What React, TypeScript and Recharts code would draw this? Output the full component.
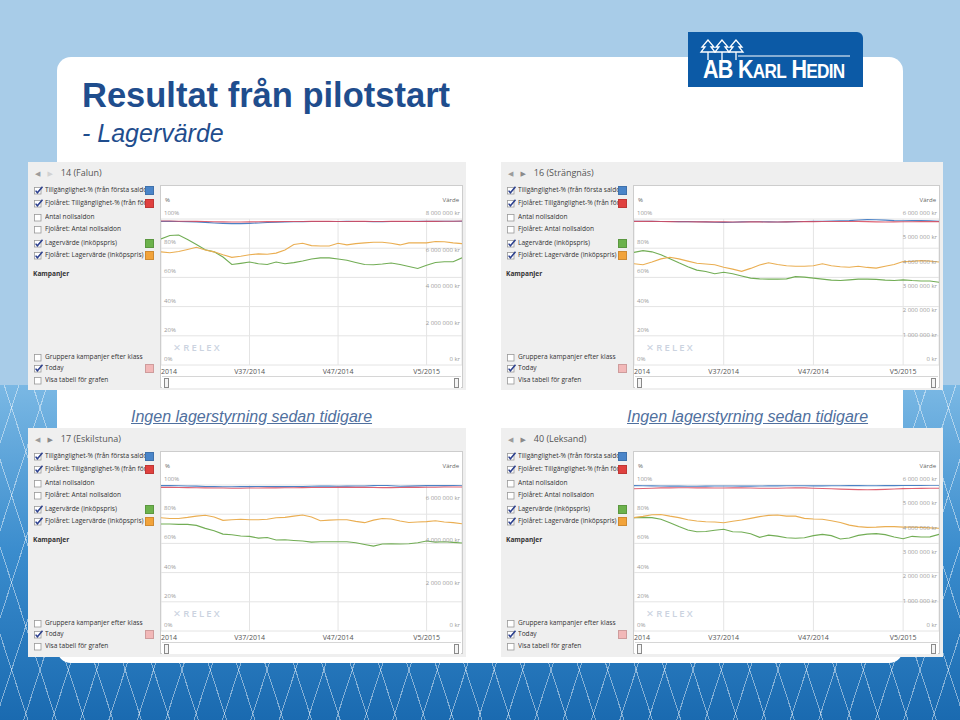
import React from "react";
import { LineChart, Line, XAxis, YAxis, CartesianGrid } from "recharts";

// weekly points, V27/2014 .. V9/2015
const weeks = [
  "V27/2014", "V28/2014", "V29/2014", "V30/2014", "V31/2014", "V32/2014", "V33/2014",
  "V34/2014", "V35/2014", "V36/2014", "V37/2014", "V38/2014", "V39/2014", "V40/2014",
  "V41/2014", "V42/2014", "V43/2014", "V44/2014", "V45/2014", "V46/2014", "V47/2014",
  "V48/2014", "V49/2014", "V50/2014", "V51/2014", "V52/2014", "V1/2015", "V2/2015",
  "V3/2015", "V4/2015", "V5/2015", "V6/2015", "V7/2015", "V8/2015", "V9/2015",
];
const xTicks = ["V27/2014", "V37/2014", "V47/2014", "V5/2015"];
const xTickText: Record<string, string> = { "V27/2014": "2014" };
const pctTicks = [0, 20, 40, 60, 80, 100];

// 14 (Falun) — availability in %, stock value in MSEK
const falunAvail = [98.4, 98.4, 98.3, 98.2, 98.0, 97.7, 97.3, 97.0, 96.8, 96.8, 97.0, 97.3, 97.6, 97.8, 98.0, 98.1, 98.2, 98.3, 98.3, 98.3, 98.3, 98.4, 98.3, 98.3, 98.2, 98.2, 98.3, 98.3, 98.3, 98.4, 98.4, 98.4, 98.5, 98.5, 98.5];
const falunAvailLy = [98.6, 98.6, 98.5, 98.5, 98.4, 98.3, 98.1, 98.0, 97.9, 97.9, 98.0, 98.1, 98.2, 98.2, 98.3, 98.3, 98.3, 98.4, 98.4, 98.4, 98.3, 98.3, 98.4, 98.4, 98.3, 98.3, 98.4, 98.4, 98.4, 98.3, 98.4, 98.4, 98.5, 98.5, 98.6];
const falunValue = [6.91, 7.1, 7.12, 6.88, 6.6, 6.32, 6.2, 5.92, 5.51, 5.57, 5.64, 5.55, 5.51, 5.64, 5.55, 5.61, 5.7, 5.81, 5.87, 5.87, 5.81, 5.74, 5.62, 5.51, 5.49, 5.53, 5.59, 5.51, 5.4, 5.29, 5.47, 5.62, 5.66, 5.66, 5.87];
const falunValueLy = [6.2, 6.15, 6.22, 6.33, 6.45, 6.3, 6.2, 6.04, 5.9, 5.96, 6.04, 6.09, 6.07, 6.13, 6.3, 6.6, 6.67, 6.54, 6.52, 6.52, 6.67, 6.58, 6.65, 6.69, 6.73, 6.73, 6.67, 6.58, 6.69, 6.69, 6.69, 6.77, 6.75, 6.69, 6.65];

// 16 (Strängnäs)
const strangnasAvail = [98.5, 98.5, 98.4, 98.3, 98.3, 98.2, 98.2, 98.1, 98.0, 97.8, 97.7, 97.8, 98.0, 98.1, 98.1, 98.0, 97.9, 98.0, 98.2, 98.3, 98.4, 98.5, 98.6, 98.7, 98.9, 99.3, 99.6, 99.5, 99.2, 98.9, 98.8, 98.9, 99.0, 98.8, 98.5];
const strangnasAvailLy = [98.4, 98.4, 98.4, 98.3, 98.2, 98.1, 98.1, 98.0, 98.0, 98.0, 98.0, 97.9, 97.9, 98.0, 98.0, 97.9, 97.9, 98.0, 98.1, 98.2, 98.2, 98.3, 98.3, 98.3, 98.3, 98.4, 98.2, 98.0, 97.9, 98.0, 98.1, 98.1, 98.2, 98.2, 98.2];
const strangnasValue = [4.63, 4.7, 4.65, 4.53, 4.37, 4.2, 4.04, 3.9, 3.84, 3.75, 3.81, 3.75, 3.66, 3.57, 3.54, 3.53, 3.53, 3.54, 3.63, 3.61, 3.57, 3.53, 3.49, 3.47, 3.5, 3.53, 3.53, 3.52, 3.49, 3.47, 3.5, 3.47, 3.45, 3.45, 3.4];
const strangnasValueLy = [4.16, 4.12, 4.23, 4.36, 4.43, 4.36, 4.27, 4.18, 4.15, 4.12, 4.02, 3.94, 3.85, 3.97, 4.11, 4.2, 4.13, 4.08, 4.06, 4.06, 4.08, 4.16, 4.08, 4.04, 4.02, 4.06, 4.01, 3.98, 4.06, 4.13, 4.25, 4.26, 4.29, 4.27, 4.23];

// 17 (Eskilstuna)
const eskilstunaAvail = [99.6, 99.6, 99.5, 99.3, 99.2, 99.0, 98.9, 98.8, 98.8, 98.9, 98.9, 99.0, 99.0, 98.9, 98.9, 99.0, 99.0, 99.1, 99.2, 99.2, 99.1, 99.2, 99.3, 99.3, 99.6, 99.8, 99.5, 99.1, 99.2, 99.4, 99.6, 99.7, 99.6, 99.7, 99.8];
const eskilstunaAvailLy = [98.4, 98.4, 98.3, 98.2, 98.1, 98.0, 97.9, 97.9, 97.8, 97.8, 97.9, 97.9, 98.0, 98.0, 98.1, 98.1, 98.2, 98.3, 98.3, 98.3, 98.4, 98.4, 98.5, 98.4, 98.3, 98.2, 98.2, 98.3, 98.4, 98.4, 98.5, 98.5, 98.6, 98.6, 98.6];
const eskilstunaValue = [5.06, 5.06, 5.04, 5.04, 4.99, 4.85, 4.74, 4.58, 4.55, 4.49, 4.47, 4.39, 4.42, 4.3, 4.31, 4.28, 4.25, 4.2, 4.22, 4.22, 4.22, 4.22, 4.17, 4.09, 4.01, 4.11, 4.12, 4.11, 4.12, 4.17, 4.25, 4.2, 4.22, 4.19, 4.16];
const eskilstunaValueLy = [5.35, 5.32, 5.32, 5.37, 5.43, 5.47, 5.39, 5.23, 5.26, 5.28, 5.26, 5.26, 5.28, 5.35, 5.37, 5.43, 5.48, 5.39, 5.21, 5.24, 5.26, 5.26, 5.18, 5.12, 5.24, 5.32, 5.29, 5.2, 5.13, 5.15, 5.17, 5.21, 5.15, 5.12, 5.07];

// 40 (Leksand)
const leksandAvail = [99.6, 99.5, 99.4, 99.3, 99.2, 99.2, 99.1, 99.1, 99.2, 99.3, 99.3, 99.3, 99.2, 99.2, 99.3, 99.4, 99.4, 99.5, 99.5, 99.5, 99.4, 99.4, 99.5, 99.5, 99.6, 99.6, 99.5, 99.5, 99.6, 99.6, 99.7, 99.7, 99.7, 99.8, 99.8];
const leksandAvailLy = [97.4, 97.6, 97.8, 98.0, 98.0, 98.1, 98.1, 98.0, 98.0, 97.9, 97.9, 98.0, 98.0, 97.9, 97.8, 97.8, 97.8, 97.9, 98.0, 98.0, 97.8, 97.6, 97.4, 97.2, 97.0, 96.8, 96.7, 96.8, 97.0, 97.3, 97.5, 97.6, 97.7, 97.8, 97.8];
const leksandValue = [4.66, 4.67, 4.66, 4.59, 4.45, 4.29, 4.15, 4.08, 4.09, 4.14, 4.18, 4.08, 4.07, 4.0, 3.85, 3.94, 3.9, 3.83, 3.81, 3.83, 3.92, 3.97, 3.92, 3.78, 3.82, 3.93, 3.98, 4.0, 3.96, 3.86, 3.79, 3.89, 3.86, 3.87, 3.97];
const leksandValueLy = [4.66, 4.71, 4.78, 4.79, 4.72, 4.66, 4.57, 4.52, 4.49, 4.48, 4.45, 4.51, 4.56, 4.63, 4.7, 4.75, 4.77, 4.72, 4.72, 4.63, 4.6, 4.59, 4.53, 4.46, 4.35, 4.29, 4.26, 4.27, 4.29, 4.29, 4.27, 4.27, 4.26, 4.24, 4.22];

const COLORS = {
  avail: "#4b82c6",
  availLy: "#d9485a",
  value: "#72ad55",
  valueLy: "#eaae52",
};

const legendRows = [
  { label: "Tillgänglighet-% (från första saldo", checked: true, swatch: "#4a85c9", y: 28 },
  { label: "Fjolåret: Tillgänglighet-% (från första saldo", checked: true, swatch: "#e0413f", y: 41 },
  { label: "Antal nollsaldon", checked: false, swatch: null, y: 55 },
  { label: "Fjolåret: Antal nollsaldon", checked: false, swatch: null, y: 67 },
  { label: "Lagervärde (inköpspris)", checked: true, swatch: "#6cb24c", y: 81 },
  { label: "Fjolåret: Lagervärde (inköpspris)", checked: true, swatch: "#f2a33a", y: 93 },
];
const bottomRows = [
  { label: "Gruppera kampanjer efter klass", checked: false, swatch: null, y: 195 },
  { label: "Today", checked: true, swatch: "#f2b8b8", y: 206 },
  { label: "Visa tabell för grafen", checked: false, swatch: null, y: 218 },
];

const FONT = "'Open Sans', 'DejaVu Sans', sans-serif";

const fmtKr = (v: number) =>
  String(Math.round(v * 1000000)).replace(/\B(?=(\d{3})+(?!\d))/g, " ") + " kr";

const PctTick = (p: any) => (
  <text x={p.x} y={p.y - 4} fontSize={6} fill="#9a9a9a" textAnchor="start" fontFamily={FONT}>
    {p.payload.value}%
  </text>
);
const KrTick = (p: any) => (
  <text x={p.x} y={p.y - 4} fontSize={6} fill="#9a9a9a" textAnchor="end" fontFamily={FONT}>
    {fmtKr(p.payload.value)}
  </text>
);
const WeekTick = (p: any) => {
  const v = p.payload.value as string;
  return (
    <text x={p.x} y={p.y + 7} fontSize={7} fill="#555" textAnchor={v === xTicks[0] ? "start" : "middle"} fontFamily={FONT}>
      {xTickText[v] ?? v}
    </text>
  );
};

const Check = ({ checked }: { checked: boolean }) => (
  <svg width={10} height={9} style={{ position: "absolute", left: 6, top: -4 }}>
    <rect x={0.5} y={1.5} width={6.5} height={6.5} fill="#fff" stroke="#9a9a9a" strokeWidth={0.8} />
    {checked && <path d="M1.6 4.6 L3.4 6.8 L8.5 0.8" fill="none" stroke="#2b3f8e" strokeWidth={1.5} />}
  </svg>
);

const Row = ({ r }: { r: { label: string; checked: boolean; swatch: string | null; y: number } }) => (
  <div style={{ position: "absolute", left: 0, top: r.y, width: 130 }}>
    <Check checked={r.checked} />
    <div
      style={{
        position: "absolute", left: 17, top: -5, width: 100, height: 10, overflow: "hidden",
        whiteSpace: "nowrap", fontSize: 6.6, lineHeight: "10px", color: "#333", fontFamily: FONT,
      }}
    >
      {r.label}
    </div>
    {r.swatch && (
      <div style={{ position: "absolute", left: 117, top: -4.5, width: 9, height: 9, background: r.swatch, border: "0.5px solid rgba(0,0,0,0.15)", boxSizing: "border-box" }} />
    )}
  </div>
);

type PanelProps = {
  left: number; top: number; width: number; height: number; title: string; nextDim?: boolean;
  avail: number[]; availLy: number[]; value: number[]; valueLy: number[];
  rightMax: number; rightTicks: number[];
};

function ChartPanel(props: PanelProps) {
  const { left, top, width, height, title, nextDim, avail, availLy, value, valueLy, rightMax, rightTicks } = props;
  const data = weeks.map((w, i) => ({
    week: w, avail: avail[i], availLy: availLy[i], value: value[i], valueLy: valueLy[i],
  }));
  const boxW = width - 135;
  const chartW = boxW - 2;
  return (
    <div style={{ position: "absolute", left, top, width, height, background: "#efefef", fontFamily: FONT }}>
      <div style={{ position: "absolute", left: 7, top: 4, fontSize: 9, color: "#555", whiteSpace: "nowrap" }}>
        <span style={{ color: "#9c9c9c", fontSize: 7 }}>◀</span>
        <span style={{ color: nextDim ? "#d2d2d2" : "#8a8a8a", fontSize: 7, marginLeft: 7 }}>▶</span>
        <span style={{ marginLeft: 8 }}>{title}</span>
      </div>
      {legendRows.map((r) => <Row key={r.label} r={r} />)}
      <div style={{ position: "absolute", left: 5, top: 107, fontSize: 6.6, fontWeight: 700, color: "#333" }}>Kampanjer</div>
      {bottomRows.map((r) => <Row key={r.label} r={r} />)}

      <div style={{ position: "absolute", left: 132, top: 23, width: boxW, height: 203, background: "#fff", border: "1px solid #cdcdcd", boxSizing: "border-box" }}>
        <div style={{ position: "absolute", left: 4, top: 11, fontSize: 6, lineHeight: "7px", color: "#666" }}>%</div>
        <div style={{ position: "absolute", right: 3, top: 11, fontSize: 6, lineHeight: "7px", color: "#666" }}>Värde</div>
        <div style={{ position: "absolute", left: 12, top: 155, fontSize: 9.5, letterSpacing: 2.2, color: "#cbd3df", fontWeight: 600 }}>
          ✕RELEX
        </div>
        <LineChart width={chartW} height={191} data={data} margin={{ top: 33, right: 0, bottom: 0, left: 0 }}>
          <CartesianGrid yAxisId="pct" stroke="#e4e4e4" strokeWidth={1} />
          <XAxis
            dataKey="week" ticks={xTicks} interval={0} height={12} tickSize={0} tickMargin={2}
            tickLine={false} axisLine={false} tick={<WeekTick />}
          />
          <YAxis
            yAxisId="pct" domain={[0, 100]} ticks={pctTicks} allowDataOverflow mirror tickSize={0}
            tickLine={false} axisLine={false} width={30} tickMargin={3} tick={<PctTick />}
          />
          <YAxis
            yAxisId="kr" orientation="right" domain={[0, rightMax]} ticks={rightTicks} allowDataOverflow mirror tickSize={0}
            tickLine={false} axisLine={false} width={40} tickMargin={2} tick={<KrTick />}
          />
          <Line yAxisId="kr" dataKey="value" stroke={COLORS.value} strokeWidth={1.1} dot={false} isAnimationActive={false} />
          <Line yAxisId="kr" dataKey="valueLy" stroke={COLORS.valueLy} strokeWidth={1.1} dot={false} isAnimationActive={false} />
          <Line yAxisId="pct" dataKey="avail" stroke={COLORS.avail} strokeWidth={1.1} dot={false} isAnimationActive={false} />
          <Line yAxisId="pct" dataKey="availLy" stroke={COLORS.availLy} strokeWidth={1.1} strokeOpacity={0.85} dot={false} isAnimationActive={false} />
        </LineChart>
        <div style={{ position: "absolute", left: 1, right: 1, top: 190, height: 11, background: "#fff", borderTop: "1px solid #d6d6d6" }}>
          <div style={{ position: "absolute", left: 2, top: 1, width: 3, height: 8, border: "1px solid #8a8a8a", background: "#f4f4f4" }} />
          <div style={{ position: "absolute", right: 2, top: 1, width: 3, height: 8, border: "1px solid #8a8a8a", background: "#f4f4f4" }} />
        </div>
      </div>
    </div>
  );
}

const panels: PanelProps[] = [
  { left: 28, top: 162, width: 438, height: 228, title: "14 (Falun)", nextDim: true, avail: falunAvail, availLy: falunAvailLy, value: falunValue, valueLy: falunValueLy, rightMax: 8, rightTicks: [0, 2, 4, 6, 8] },
  { left: 501, top: 162, width: 442, height: 228, title: "16 (Strängnäs)", avail: strangnasAvail, availLy: strangnasAvailLy, value: strangnasValue, valueLy: strangnasValueLy, rightMax: 6, rightTicks: [0, 1, 2, 3, 4, 5, 6] },
  { left: 28, top: 428, width: 438, height: 229, title: "17 (Eskilstuna)", avail: eskilstunaAvail, availLy: eskilstunaAvailLy, value: eskilstunaValue, valueLy: eskilstunaValueLy, rightMax: 6.9, rightTicks: [0, 2, 4, 6] },
  { left: 501, top: 428, width: 442, height: 229, title: "40 (Leksand)", avail: leksandAvail, availLy: leksandAvailLy, value: leksandValue, valueLy: leksandValueLy, rightMax: 6, rightTicks: [0, 1, 2, 3, 4, 5, 6] },
];

const Tree = ({ x }: { x: number }) => (
  <path d={`M${x} 8 L${x - 6} 15 L${x - 3} 15 L${x - 7} 20 L${x + 7} 20 L${x + 3} 15 L${x + 6} 15 Z M${x} 20 L${x} 28`} fill="none" stroke="#fff" strokeWidth={1.3} />
);

export default function App() {
  const titleColor = "#1f4d8d";
  return (
    <div style={{ position: "relative", width: 960, height: 720, overflow: "hidden", background: "#a8cce8", fontFamily: "'Liberation Sans', Arial, sans-serif" }}>
      <style>{"body{margin:0}"}</style>
      {/* mesh background */}
      <div
        style={{
          position: "absolute", left: 0, top: 385, width: 960, height: 335,
          background:
            "repeating-linear-gradient(72deg, transparent 0 26px, rgba(255,255,255,0.45) 26px 27px)," +
            "repeating-linear-gradient(-72deg, transparent 0 26px, rgba(255,255,255,0.45) 26px 27px)," +
            "linear-gradient(180deg, #7ab8e4 0%, #3a8ccd 50%, #1a6ab0 100%)",
        }}
      />
      {/* slide card */}
      <div style={{ position: "absolute", left: 57, top: 57, width: 846, height: 606, background: "#fff", borderRadius: 14 }} />

      {/* logo */}
      <div style={{ position: "absolute", left: 688, top: 32, width: 175, height: 55, background: "#0c5aa6", borderTopRightRadius: 6 }}>
        <svg width={175} height={55} style={{ position: "absolute", left: 0, top: 0 }}>
          <Tree x={20} />
          <Tree x={34} />
          <Tree x={48} />
          <line x1={50} y1={24} x2={162} y2={24} stroke="#fff" strokeWidth={1.2} />
        </svg>
        <div style={{ position: "absolute", left: 15, top: 23, color: "#fff", fontWeight: 700, fontSize: 25, letterSpacing: -0.8, whiteSpace: "nowrap", transform: "scaleX(0.86)", transformOrigin: "left" }}>
          AB K<span style={{ fontSize: 20 }}>ARL</span> H<span style={{ fontSize: 20 }}>EDIN</span>
        </div>
      </div>

      <div style={{ position: "absolute", left: 82, top: 76, fontSize: 34.5, fontWeight: 700, color: titleColor, whiteSpace: "nowrap" }}>
        Resultat från pilotstart
      </div>
      <div style={{ position: "absolute", left: 82, top: 119, fontSize: 25, fontStyle: "italic", color: titleColor, whiteSpace: "nowrap" }}>
        - Lagervärde
      </div>

      {panels.map((p) => <ChartPanel key={p.title} {...p} />)}

      <div style={{ position: "absolute", left: 131, top: 408, fontSize: 16, fontStyle: "italic", textDecoration: "underline", color: "#50709e", whiteSpace: "nowrap" }}>
        Ingen lagerstyrning sedan tidigare
      </div>
      <div style={{ position: "absolute", left: 627, top: 408, fontSize: 16, fontStyle: "italic", textDecoration: "underline", color: "#50709e", whiteSpace: "nowrap" }}>
        Ingen lagerstyrning sedan tidigare
      </div>
    </div>
  );
}
